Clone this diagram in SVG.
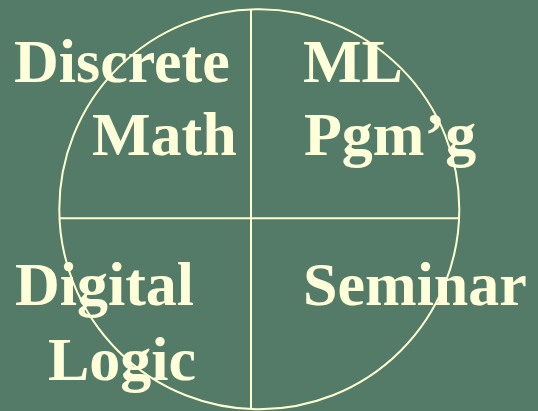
<svg xmlns="http://www.w3.org/2000/svg" width="538" height="411" viewBox="0 0 538 411">
<style>
.t{font-family:"Liberation Serif","Times New Roman",serif;font-weight:bold;font-size:62px;fill:#FFFFD9}
.ln{stroke:#FFFFD0;stroke-width:2;fill:none}
</style>
<rect width="538" height="411" fill="#537B67"/>
<g id="connectors">
<circle class="ln" cx="259.3" cy="209.3" r="200"/>
<line class="ln" x1="251" y1="9.6" x2="251" y2="409"/>
<line class="ln" x1="59.5" y1="218.3" x2="459" y2="218.3"/>
</g>
<g id="discrete-math">
<text class="t" x="14" y="82">Discrete</text>
<text class="t" x="92" y="155">Math</text>
</g>
<g id="ml-pgmg">
<text class="t" x="303" y="82">ML</text>
<text class="t" x="304" y="155">Pgm’g</text>
</g>
<g id="digital-logic">
<text class="t" x="15" y="305">Digital</text>
<text class="t" x="48" y="380">Logic</text>
</g>
<g id="seminar">
<text class="t" x="303" y="305">Seminar</text>
</g>
</svg>
